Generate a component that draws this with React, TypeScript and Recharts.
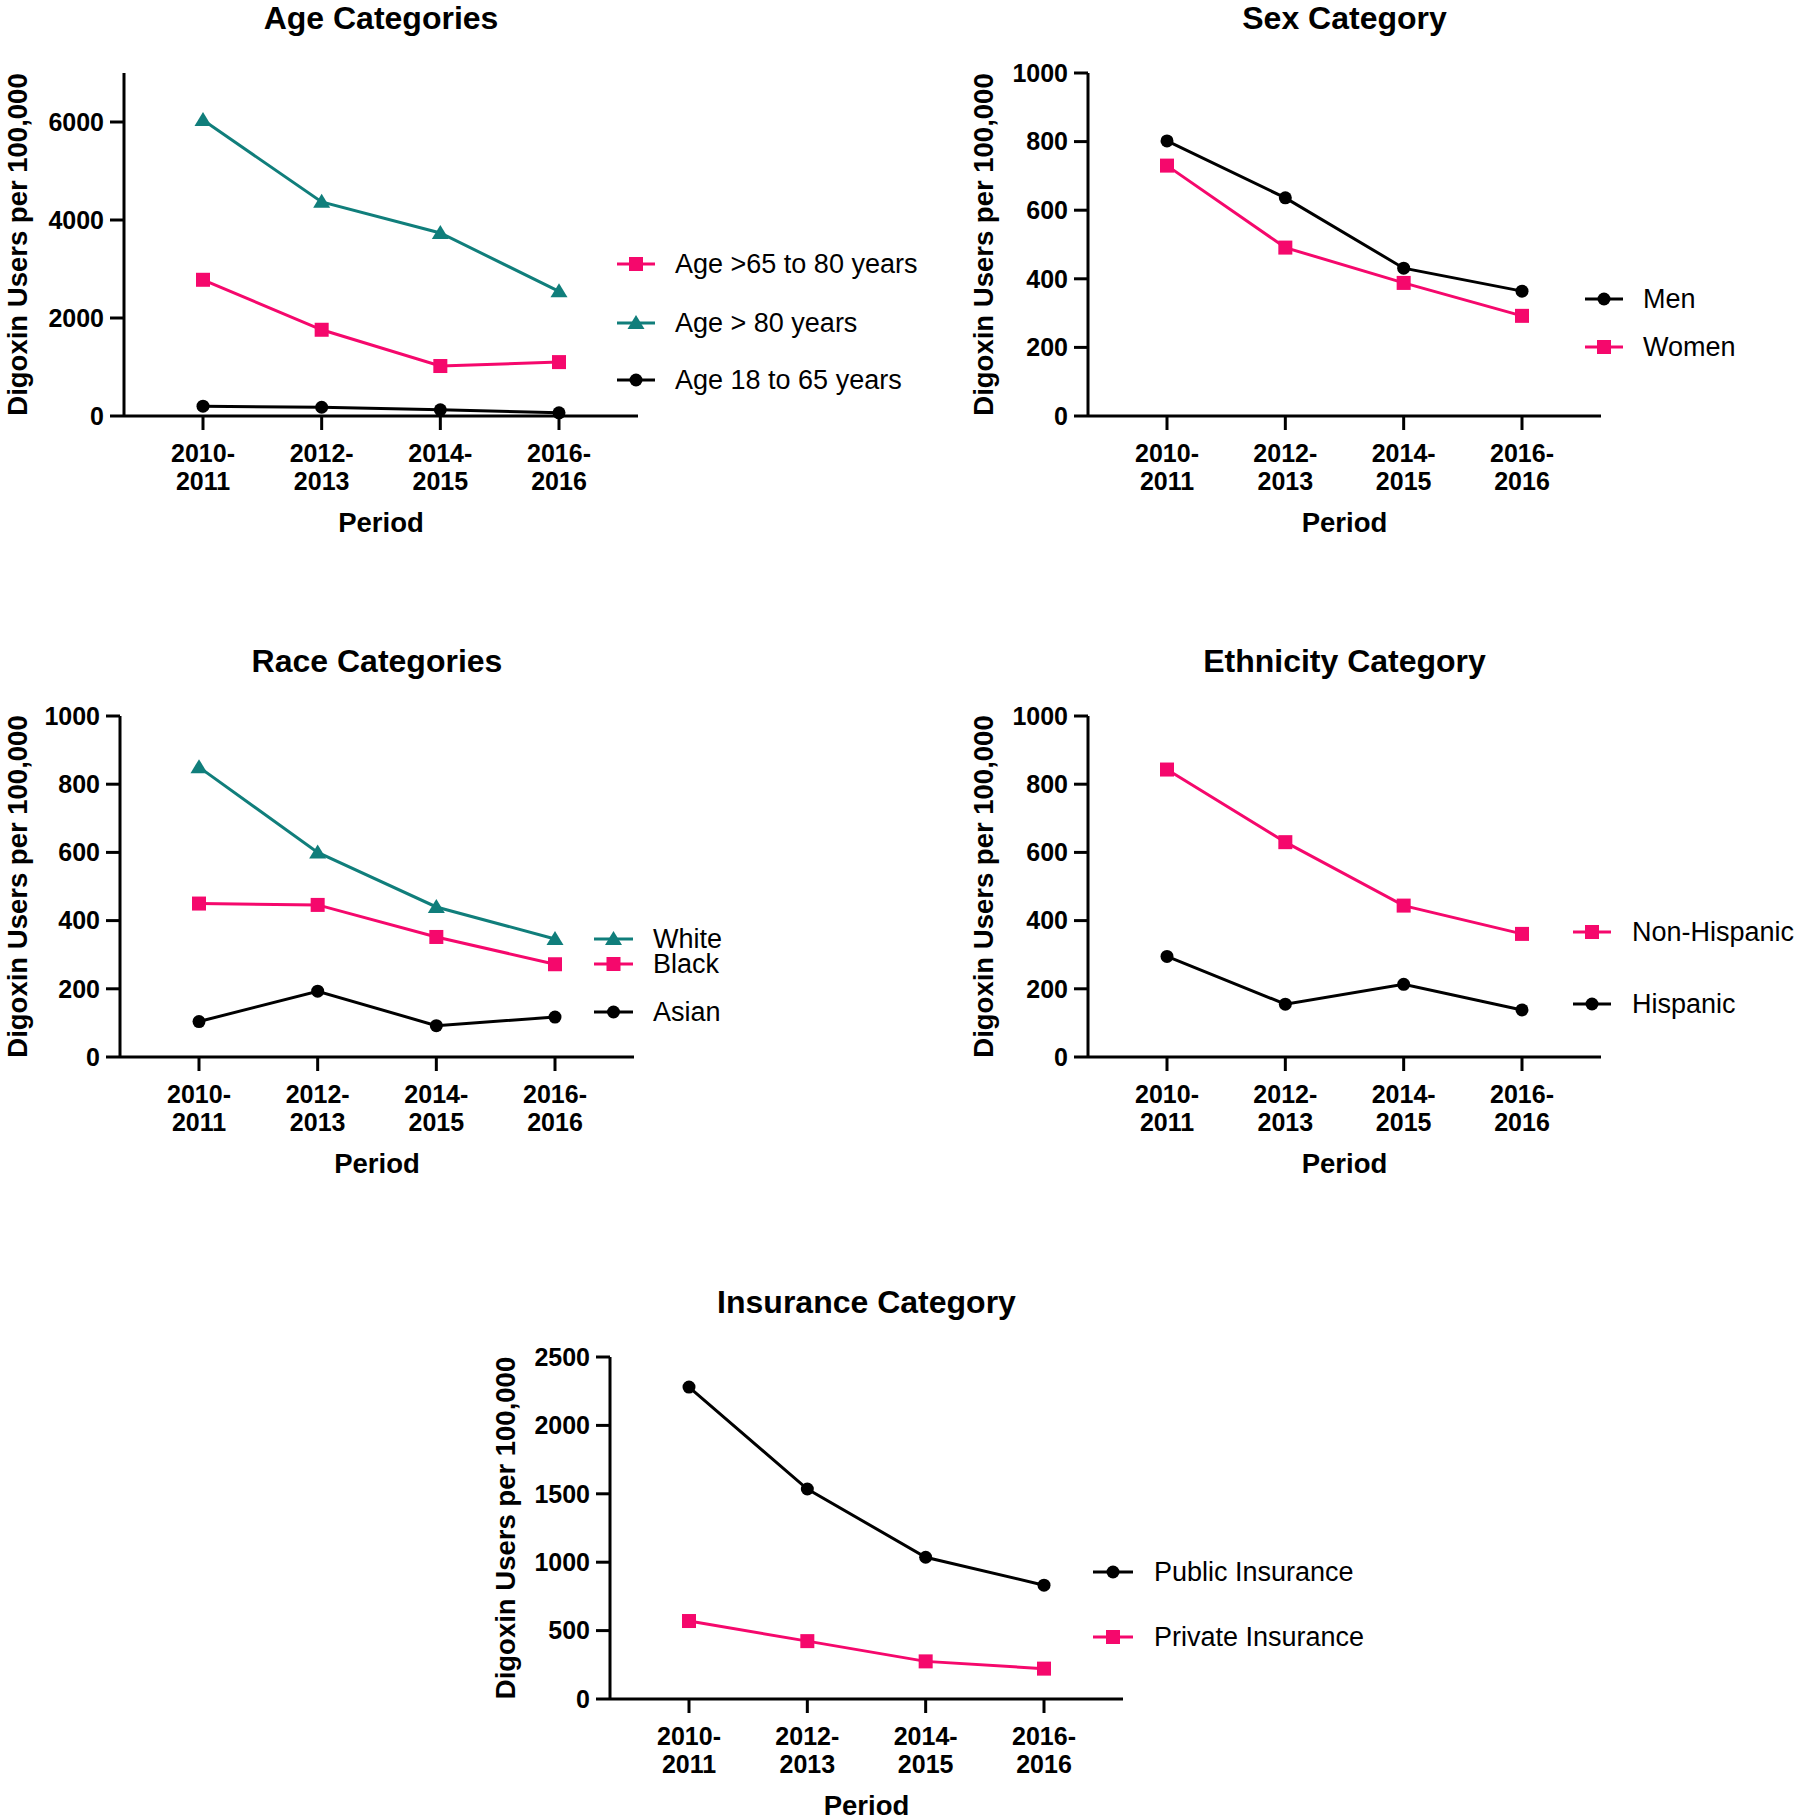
import React from 'react';
import { LineChart, Line, XAxis, YAxis } from 'recharts';

// ---------- data ----------
const PERIODS = ['2010-2011', '2012-2013', '2014-2015', '2016-2016'];

const AGE_65_TO_80 = [2780, 1760, 1020, 1100];
const AGE_OVER_80 = [6040, 4370, 3735, 2545];
const AGE_18_TO_65 = [200, 178, 128, 65];
const AGE_TICKS = [0, 2000, 4000, 6000];

const SEX_MEN = [802, 636, 431, 364];
const SEX_WOMEN = [730, 491, 388, 292];

const RACE_WHITE = [850, 600, 440, 346];
const RACE_BLACK = [450, 446, 352, 272];
const RACE_ASIAN = [104, 193, 92, 117];

const ETH_NON_HISPANIC = [843, 630, 444, 361];
const ETH_HISPANIC = [295, 155, 213, 138];

const INS_PUBLIC = [2280, 1535, 1036, 832];
const INS_PRIVATE = [570, 423, 275, 222];

const THOUSAND_TICKS = [0, 200, 400, 600, 800, 1000];
const INS_TICKS = [0, 500, 1000, 1500, 2000, 2500];

const TITLES = ['Age Categories', 'Sex Category', 'Race Categories', 'Ethnicity Category', 'Insurance Category'];
const X_LABEL = 'Period';
const Y_LABEL = 'Digoxin Users per 100,000';

// ---------- styles ----------
const PINK = '#F5086C';
const TEAL = '#107E7B';
const BLACK = '#000000';
const FONT = '"Liberation Sans", Arial, Helvetica, sans-serif';

type Shape = 'square' | 'triangle' | 'circle';
interface Series { key: string; name: string; values: number[]; color: string; shape: Shape }

const AGE_SERIES: Series[] = [
  { key: 'a6580', name: 'Age >65 to 80 years', values: AGE_65_TO_80, color: PINK, shape: 'square' },
  { key: 'a80', name: 'Age > 80 years', values: AGE_OVER_80, color: TEAL, shape: 'triangle' },
  { key: 'a1865', name: 'Age 18 to 65 years', values: AGE_18_TO_65, color: BLACK, shape: 'circle' },
];
const SEX_SERIES: Series[] = [
  { key: 'men', name: 'Men', values: SEX_MEN, color: BLACK, shape: 'circle' },
  { key: 'women', name: 'Women', values: SEX_WOMEN, color: PINK, shape: 'square' },
];
const RACE_SERIES: Series[] = [
  { key: 'white', name: 'White', values: RACE_WHITE, color: TEAL, shape: 'triangle' },
  { key: 'black', name: 'Black', values: RACE_BLACK, color: PINK, shape: 'square' },
  { key: 'asian', name: 'Asian', values: RACE_ASIAN, color: BLACK, shape: 'circle' },
];
const ETH_SERIES: Series[] = [
  { key: 'nonhisp', name: 'Non-Hispanic', values: ETH_NON_HISPANIC, color: PINK, shape: 'square' },
  { key: 'hisp', name: 'Hispanic', values: ETH_HISPANIC, color: BLACK, shape: 'circle' },
];
const INS_SERIES: Series[] = [
  { key: 'public', name: 'Public Insurance', values: INS_PUBLIC, color: BLACK, shape: 'circle' },
  { key: 'private', name: 'Private Insurance', values: INS_PRIVATE, color: PINK, shape: 'square' },
];

interface Layout {
  L: number; R: number; T: number; B: number; yLabelGap: number;
  legend: { x1: number; x2: number; tx: number; rows: number[] };
}

interface Panel {
  title: string;
  series: Series[];
  domainMax: number;
  ticks: number[];
  layout: Layout;
}

const PANELS: Panel[] = [
  { title: TITLES[0], series: AGE_SERIES, domainMax: 7000, ticks: AGE_TICKS,
    layout: { L: 124, R: 638, T: 73, B: 416, yLabelGap: 107, legend: { x1: 617, x2: 655, tx: 675, rows: [264, 323, 380] } } },
  { title: TITLES[1], series: SEX_SERIES, domainMax: 1000, ticks: THOUSAND_TICKS,
    layout: { L: 1088, R: 1601, T: 73, B: 416, yLabelGap: 105, legend: { x1: 1585, x2: 1623, tx: 1643, rows: [299, 347] } } },
  { title: TITLES[2], series: RACE_SERIES, domainMax: 1000, ticks: THOUSAND_TICKS,
    layout: { L: 120, R: 634, T: 716, B: 1057, yLabelGap: 103, legend: { x1: 594, x2: 633, tx: 653, rows: [939, 964, 1012] } } },
  { title: TITLES[3], series: ETH_SERIES, domainMax: 1000, ticks: THOUSAND_TICKS,
    layout: { L: 1088, R: 1601, T: 716, B: 1057, yLabelGap: 105, legend: { x1: 1573, x2: 1611, tx: 1632, rows: [932, 1004] } } },
  { title: TITLES[4], series: INS_SERIES, domainMax: 2500, ticks: INS_TICKS,
    layout: { L: 610, R: 1123, T: 1357, B: 1699, yLabelGap: 105, legend: { x1: 1093, x2: 1133, tx: 1154, rows: [1572, 1637] } } },
];

// ---------- marks ----------
function Marker({ shape, cx, cy, color }: { shape: Shape; cx: number; cy: number; color: string }) {
  if (shape === 'square') return <rect x={cx - 7} y={cy - 7} width={14} height={14} fill={color} />;
  if (shape === 'triangle')
    return <polygon points={`${cx},${cy - 8} ${cx + 8.5},${cy + 6} ${cx - 8.5},${cy + 6}`} fill={color} />;
  return <circle cx={cx} cy={cy} r={6.5} fill={color} />;
}

const TICK_FONT = 25;

const PeriodTick = (props: any) => {
  const { x, y, payload } = props;
  const s: string = String(payload.value);
  const i = s.indexOf('-');
  const a = s.slice(0, i + 1);
  const b = s.slice(i + 1);
  const common = { x, textAnchor: 'middle' as const, dominantBaseline: 'central' as const, fontSize: TICK_FONT, fontWeight: 700, fontFamily: FONT, fill: '#000' };
  return (
    <g>
      <text {...common} y={y + 23}>{a}</text>
      <text {...common} y={y + 51}>{b}</text>
    </g>
  );
};

const Y_AXIS_W = 100;
const X_AXIS_H = 70;
const MT = 24;
const M = 10;

function PanelChart({ panel }: { panel: Panel }) {
  const { L, R, T, B } = panel.layout;
  const plotW = R - L;
  const plotH = B - T;
  const width = Y_AXIS_W + plotW + M;
  const height = MT + plotH + X_AXIS_H + M;
  const rows = PERIODS.map((p, i) => {
    const r: Record<string, any> = { period: p };
    panel.series.forEach((s) => { r[s.key] = s.values[i]; });
    return r;
  });
  return (
    <div style={{ position: 'absolute', left: L - Y_AXIS_W, top: T - MT, width, height }}>
      <LineChart width={width} height={height} data={rows} margin={{ top: MT, right: M, bottom: M, left: 0 }}>
        <XAxis
          dataKey="period"
          type="category"
          scale="point"
          padding={{ left: 79, right: 79 }}
          interval={0}
          height={X_AXIS_H}
          tickSize={14}
          tickMargin={0}
          axisLine={{ stroke: '#000', strokeWidth: 3 }}
          tickLine={{ stroke: '#000', strokeWidth: 3 }}
          tick={<PeriodTick />}
        />
        <YAxis
          type="number"
          domain={[0, panel.domainMax]}
          ticks={panel.ticks}
          interval={0}
          width={Y_AXIS_W}
          tickSize={14}
          tickMargin={6}
          axisLine={{ stroke: '#000', strokeWidth: 3 }}
          tickLine={{ stroke: '#000', strokeWidth: 3 }}
          tick={{ fontSize: TICK_FONT, fontWeight: 700, fontFamily: FONT, fill: '#000' }}
        />
        {panel.series.map((s) => (
          <Line
            key={s.key}
            dataKey={s.key}
            name={s.name}
            stroke={s.color}
            strokeWidth={3}
            isAnimationActive={false}
            activeDot={false}
            dot={(p: any) => <Marker key={`${s.key}-${p.index}`} shape={s.shape} cx={p.cx} cy={p.cy} color={s.color} />}
          />
        ))}
      </LineChart>
    </div>
  );
}

function Overlay() {
  return (
    <svg width={1800} height={1820} style={{ position: 'absolute', left: 0, top: 0, pointerEvents: 'none' }}>
      {PANELS.map((panel, pi) => {
        const { L, R, T, B, legend, yLabelGap } = panel.layout;
        const cx = (L + R) / 2;
        const cy = (T + B) / 2;
        const lx = L - yLabelGap;
        const mid = (legend.x1 + legend.x2) / 2;
        return (
          <g key={pi} fontFamily={FONT}>
            <text x={cx} y={T - 55} textAnchor="middle" dominantBaseline="central" fontSize={32} fontWeight={700} fill="#000">{panel.title}</text>
            <text x={cx} y={B + 106} textAnchor="middle" dominantBaseline="central" fontSize={27.5} fontWeight={700} fill="#000">{X_LABEL}</text>
            <text x={lx} y={cy} transform={`rotate(-90, ${lx}, ${cy})`} textAnchor="middle" dominantBaseline="central" fontSize={27.5} fontWeight={700} fill="#000">{Y_LABEL}</text>
            {panel.series.map((s, i) => {
              const y = legend.rows[i];
              return (
                <g key={s.key}>
                  <line x1={legend.x1} x2={legend.x2} y1={y} y2={y} stroke={s.color} strokeWidth={3} />
                  <Marker shape={s.shape} cx={mid} cy={y} color={s.color} />
                  <text x={legend.tx} y={y} dominantBaseline="central" fontSize={27} fill="#000">{s.name}</text>
                </g>
              );
            })}
          </g>
        );
      })}
    </svg>
  );
}

export default function App() {
  return (
    <div style={{ position: 'absolute', left: 0, top: 0, width: 1800, height: 1820, background: '#fff', fontFamily: FONT }}>
      {PANELS.map((p, i) => <PanelChart key={i} panel={p} />)}
      <Overlay />
    </div>
  );
}
